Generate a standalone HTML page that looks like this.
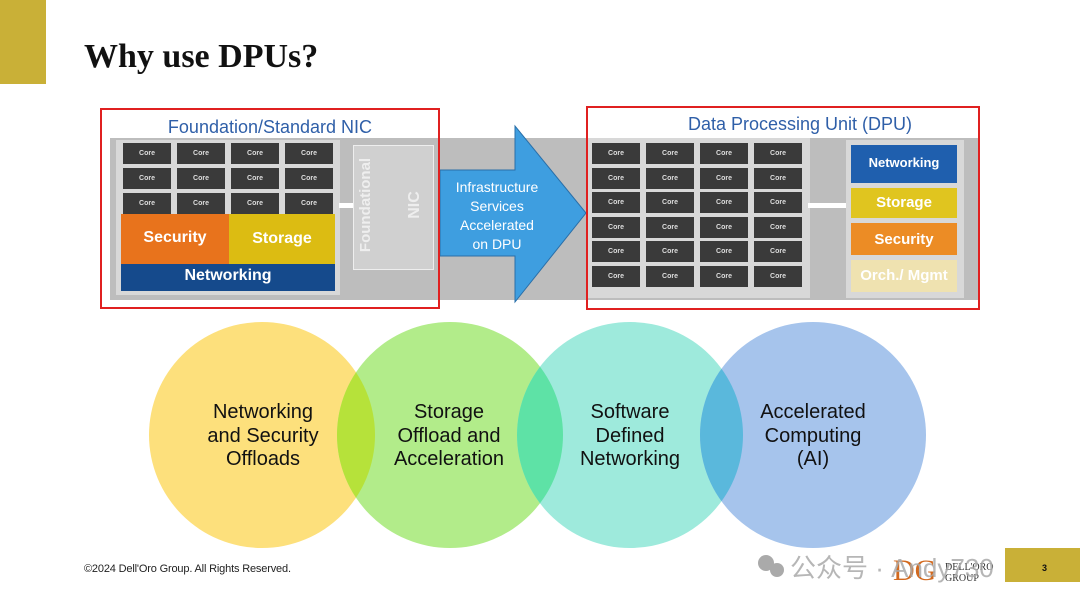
<!DOCTYPE html>
<html><head><meta charset="utf-8"><style>
body{margin:0;width:1080px;height:608px;background:#fff;overflow:hidden;position:relative;font-family:"Liberation Sans",sans-serif}
.a{position:absolute}
.core{position:absolute;width:48px;height:21px;background:#3a3a3a;color:#ddd;font-size:7px;font-weight:bold;text-align:center;line-height:21px}
.bl{position:absolute;color:#fff;font-weight:bold;text-align:center}
</style></head><body>
<div class="a" style="left:0;top:0;width:46px;height:84px;background:#c9b037"></div>
<div class="a" style="left:84px;top:38px;font:bold 34px 'Liberation Serif',serif;color:#111">Why use DPUs?</div>

<div class="a" style="left:110px;top:138px;width:868px;height:162px;background:#bdbdbd"></div>
<div class="a" style="left:116px;top:140px;width:224px;height:155px;background:#d8d8d8"></div>
<div id="lc"></div>
<div class="a" style="left:121px;top:214px;width:108px;height:50px;background:#e8731c"></div>
<div class="a" style="left:229px;top:214px;width:106px;height:50px;background:#dcbc12"></div>
<div class="bl" style="left:121px;top:229px;width:108px;font-size:16px">Security</div>
<div class="bl" style="left:229px;top:230px;width:106px;font-size:16px">Storage</div>
<div class="a" style="left:121px;top:264px;width:214px;height:27px;background:#154a8c"></div>
<div class="bl" style="left:121px;top:267px;width:214px;font-size:16px">Networking</div>
<div class="a" style="left:339px;top:203px;width:16px;height:5px;background:#fff"></div>
<div class="a" style="left:353px;top:145px;width:79px;height:123px;background:#d0d0d0;border:1px solid #eee"></div>
<div class="bl" style="left:306px;top:196px;width:120px;font-size:15px;line-height:18px;transform:rotate(-90deg);color:#eee">Foundational</div>
<div class="bl" style="left:395px;top:196px;width:40px;font-size:16px;line-height:18px;transform:rotate(-90deg);color:#eee">NIC</div>

<div class="a" style="left:586px;top:138px;width:224px;height:160px;background:#d8d8d8"></div>
<div id="rc"></div>
<div class="a" style="left:808px;top:203px;width:40px;height:5px;background:#fff"></div>
<div class="a" style="left:846px;top:140px;width:118px;height:158px;background:#d8d8d8"></div>
<div class="a" style="left:851px;top:145px;width:106px;height:38px;background:#1f5fae"></div>
<div class="bl" style="left:851px;top:155px;width:106px;font-size:13px">Networking</div>
<div class="a" style="left:851px;top:188px;width:106px;height:30px;background:#e0c51f"></div>
<div class="bl" style="left:851px;top:194px;width:106px;font-size:15px">Storage</div>
<div class="a" style="left:851px;top:223px;width:106px;height:32px;background:#ec8c25"></div>
<div class="bl" style="left:851px;top:231px;width:106px;font-size:15px">Security</div>
<div class="a" style="left:851px;top:260px;width:106px;height:32px;background:#efe2b0"></div>
<div class="bl" style="left:851px;top:267px;width:106px;font-size:15px">Orch./ Mgmt</div>

<svg class="a" style="left:0;top:0" width="1080" height="608">
<polygon points="440,170 515,170 515,126 586,213 515,302 515,256 440,256" fill="#3e9ee0" stroke="#2a6fa8" stroke-width="1"/>
<text x="497" y="192" font-size="14" fill="#fff" text-anchor="middle" font-family="Liberation Sans">Infrastructure</text>
<text x="497" y="211" font-size="14" fill="#fff" text-anchor="middle" font-family="Liberation Sans">Services</text>
<text x="497" y="230" font-size="14" fill="#fff" text-anchor="middle" font-family="Liberation Sans">Accelerated</text>
<text x="497" y="249" font-size="14" fill="#fff" text-anchor="middle" font-family="Liberation Sans">on DPU</text>
<rect x="101" y="109" width="338" height="199" fill="none" stroke="#e02020" stroke-width="2"/>
<rect x="587" y="107" width="392" height="202" fill="none" stroke="#e02020" stroke-width="2"/>
<rect x="113" y="112" width="324" height="26" fill="#fff"/>
<rect x="590" y="110" width="386" height="28" fill="#fff"/>
<text x="270" y="133" font-size="18" fill="#2f5fa8" text-anchor="middle" font-family="Liberation Sans">Foundation/Standard NIC</text>
<text x="800" y="130" font-size="18" fill="#2f5fa8" text-anchor="middle" font-family="Liberation Sans">Data Processing Unit (DPU)</text>
<defs>
<clipPath id="cy"><circle cx="262" cy="435" r="113"/></clipPath>
<clipPath id="cg"><circle cx="450" cy="435" r="113"/></clipPath>
<clipPath id="ct"><circle cx="630" cy="435" r="113"/></clipPath>
</defs>
<circle cx="262" cy="435" r="113" fill="#fde07c"/>
<circle cx="450" cy="435" r="113" fill="#b2ec8a"/>
<circle cx="630" cy="435" r="113" fill="#9eeadc"/>
<circle cx="813" cy="435" r="113" fill="#a6c4ec"/>
<circle cx="450" cy="435" r="113" fill="#b6e23a" clip-path="url(#cy)"/>
<circle cx="630" cy="435" r="113" fill="#5ee2a6" clip-path="url(#cg)"/>
<circle cx="813" cy="435" r="113" fill="#5ab8dc" clip-path="url(#ct)"/>
<g font-size="20" fill="#111" text-anchor="middle" font-family="Liberation Sans">
<text x="263" y="418">Networking</text><text x="263" y="442">and Security</text><text x="263" y="465">Offloads</text>
<text x="449" y="418">Storage</text><text x="449" y="442">Offload and</text><text x="449" y="465">Acceleration</text>
<text x="630" y="418">Software</text><text x="630" y="442">Defined</text><text x="630" y="465">Networking</text>
<text x="813" y="418">Accelerated</text><text x="813" y="442">Computing</text><text x="813" y="465">(AI)</text>
</g>
<text x="84" y="572" font-size="11" fill="#222" font-family="Liberation Sans" textLength="207">©2024 Dell'Oro Group.  All Rights Reserved.</text>
<rect x="1005" y="548" width="75" height="34" fill="#c9b037"/>
<text x="1042" y="571" font-size="9" font-weight="bold" fill="#111" font-family="Liberation Sans">3</text>
<text x="893" y="580" font-size="30" fill="#d2691e" font-family="Liberation Serif">DG</text>
<text x="945" y="570" font-size="10" fill="#333" font-family="Liberation Serif">DELL'ORO</text>
<text x="945" y="581" font-size="10" fill="#333" font-family="Liberation Serif">GROUP</text>
<text x="790" y="577" font-size="26" fill="#aaa" font-family="Liberation Sans, Noto Sans CJK SC, sans-serif" opacity="0.85">公众号 · Andy730</text>
<circle cx="766" cy="563" r="8" fill="#aaa"/><circle cx="777" cy="570" r="7" fill="#aaa"/>
</svg>
<script>
var s='';var lx=[123,177,231,285];
for(var r=0;r<3;r++)for(var c=0;c<4;c++)s+='<div class="core" style="left:'+lx[c]+'px;top:'+(143+r*25)+'px">Core</div>';
document.getElementById('lc').outerHTML=s;
s='';var rx=[592,646,700,754];
for(var r=0;r<6;r++)for(var c=0;c<4;c++)s+='<div class="core" style="left:'+rx[c]+'px;top:'+(143+r*24.5)+'px">Core</div>';
document.getElementById('rc').outerHTML=s;
</script>
</body></html>
